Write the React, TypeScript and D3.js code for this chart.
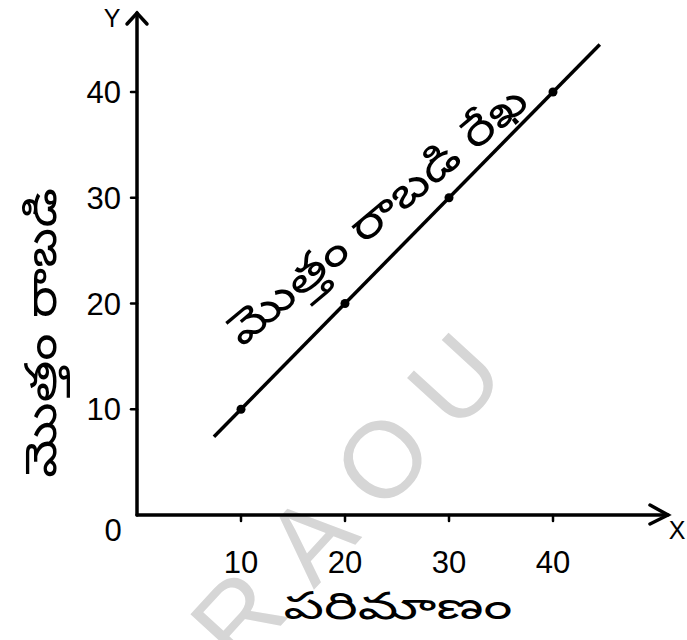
import React from "react";
import * as d3 from "d3";

const xTicks = [10, 20, 30, 40];
const yTicks = [10, 20, 30, 40];
const pointsX = [10, 20, 30, 40];
const pointsY = [10, 20, 30, 40];
const lineX = [7.4, 44.5];
const lineY = [7.4, 44.5];
const xAxisLabel = "పరిమాణం";
const yAxisLabel = "మొత్తం రాబడి";
const lineLabel = "మొత్తం రాబడి రేఖ";
const watermark = ["R", "A", "O", "U"];

const W = 687;
const H = 640;

export default function App() {
  const x = d3.scaleLinear().domain([0, 40]).range([137, 553]);
  const y = d3.scaleLinear().domain([0, 40]).range([515, 92]);
  const x0 = x(0);
  const y0 = y(0);
  const xEnd = 668;
  const yEnd = 13;
  const lineGen = d3
    .line<number>()
    .x((_, i) => x(lineX[i]))
    .y((d) => y(d));
  const numFont = "'Liberation Sans', Arial, sans-serif";
  const teluguFont = "'Noto Sans Telugu', 'Noto Sans', sans-serif";

  // watermark along a diagonal
  const wmStart = [237, 616];
  const wmStep = 107;
  const wmAngle = -47.5;
  const rad = (wmAngle * Math.PI) / 180;

  return (
    <svg
      width={W}
      height={H}
      style={{ position: "absolute", left: 0, top: 0, background: "#fff" }}
    >
      <rect width={W} height={H} fill="#fff" />
      {/* watermark */}
      <g fill="#d6d6d6" fontFamily={numFont} fontSize={108}>
        {watermark.map((c, i) => {
          const cx = wmStart[0] + Math.cos(rad) * wmStep * i;
          const cy = wmStart[1] + Math.sin(rad) * wmStep * i;
          return (
            <text
              key={i}
              transform={`translate(${cx},${cy}) rotate(${wmAngle})`}
              textAnchor="middle"
              dy="0.36em"
            >
              {c}
            </text>
          );
        })}
      </g>

      {/* axes */}
      <g stroke="#000" strokeWidth={3.5} fill="none" strokeLinecap="round">
        <line x1={x0} y1={y0} x2={x0} y2={yEnd} />
        <polyline points={`${x0 - 10},${yEnd + 11} ${x0},${yEnd} ${x0 + 10},${yEnd + 11}`} />
        <line x1={x0} y1={y0} x2={xEnd} y2={y0} />
        <polyline points={`${xEnd - 18},${y0 - 10} ${xEnd},${y0} ${xEnd - 18},${y0 + 9}`} />
        {xTicks.map((t) => (
          <line key={"xt" + t} x1={x(t)} x2={x(t)} y1={y0} y2={y0 + 6} strokeWidth={2.5} />
        ))}
        {yTicks.map((t) => (
          <line key={"yt" + t} x1={x0} x2={x0 - 6} y1={y(t)} y2={y(t)} strokeWidth={2.5} />
        ))}
      </g>

      {/* tick labels */}
      <g fontFamily={numFont} fontSize={31} fill="#000">
        {xTicks.map((t) => (
          <text key={"xl" + t} x={x(t)} y={562} textAnchor="middle" dy="0.36em">
            {t}
          </text>
        ))}
        {yTicks.map((t) => (
          <text key={"yl" + t} x={121} y={y(t)} textAnchor="end" dy="0.36em">
            {t}
          </text>
        ))}
        <text x={113} y={530} textAnchor="middle" dy="0.36em">0</text>
      </g>
      <g fontFamily={numFont} fontSize={25} fill="#000">
        <text x={112} y={18} textAnchor="middle" dy="0.36em">Y</text>
        <text x={677} y={530} textAnchor="middle" dy="0.36em">X</text>
      </g>

      {/* revenue line */}
      <path d={lineGen(lineY) || ""} stroke="#000" strokeWidth={3.5} fill="none" />
      {pointsX.map((px, i) => (
        <circle key={"p" + i} cx={x(px)} cy={y(pointsY[i])} r={4.5} fill="#000" />
      ))}

      {/* Telugu labels */}
      <g fontFamily={teluguFont} fill="#000">
        <text
          transform={`translate(398,605) scale(1.5,1)`}
          textAnchor="middle"
          dy="0.36em"
          fontSize={38}
        >
          {xAxisLabel}
        </text>
        <text
          transform={`translate(40,333) rotate(-90) scale(1.22,1)`}
          textAnchor="middle"
          dy="0.36em"
          fontSize={44}
        >
          {yAxisLabel}
        </text>
        <text
          transform={`translate(376,214) rotate(-40) scale(1.22,1)`}
          textAnchor="middle"
          dy="0.36em"
          fontSize={44}
        >
          {lineLabel}
        </text>
      </g>
    </svg>
  );
}
